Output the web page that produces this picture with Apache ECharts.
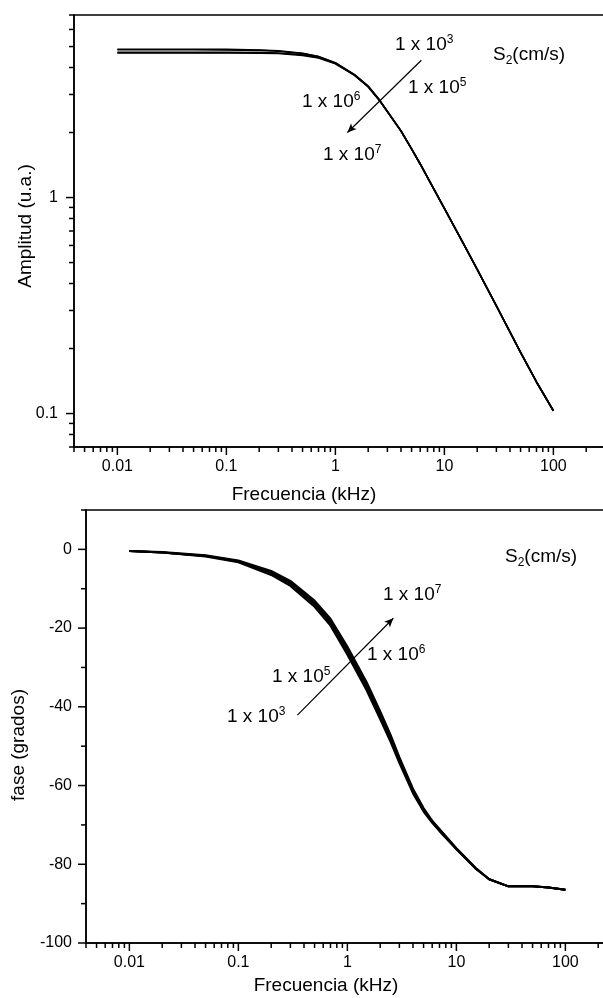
<!DOCTYPE html>
<html><head><meta charset="utf-8">
<script src="https://cdn.jsdelivr.net/npm/echarts@6/dist/echarts.min.js"></script>
<style>html,body{margin:0;padding:0;background:#fff}#c{width:603px;height:998px}</style>
</head><body><div id="c"></div>
<script>
// ---------------- data ----------------
const freq = [0.01,0.02,0.05,0.1,0.2,0.3,0.5,0.7,1,1.5,2,2.5,3,4,5,6,7,10,15,20,30,50,70,100];
// Amplitude (u.a.) for S2 = 1e3, 1e5, 1e6, 1e7 cm/s
const amp_1e3 = [4.86,4.86,4.86,4.85,4.82,4.78,4.65,4.50,4.21,3.71,3.28,2.86,2.51,2.04,1.68,1.43,1.24,0.89,0.61,0.465,0.315,0.192,0.140,0.103];
const amp_1e5 = [4.83,4.83,4.83,4.82,4.80,4.76,4.64,4.49,4.20,3.70,3.27,2.85,2.50,2.03,1.68,1.43,1.24,0.89,0.61,0.465,0.315,0.192,0.140,0.103];
const amp_1e6 = [4.70,4.70,4.70,4.70,4.69,4.67,4.58,4.45,4.18,3.69,3.26,2.85,2.50,2.03,1.68,1.43,1.24,0.89,0.61,0.465,0.315,0.192,0.140,0.103];
const amp_1e7 = [4.67,4.67,4.67,4.67,4.66,4.64,4.55,4.43,4.16,3.68,3.25,2.84,2.50,2.03,1.68,1.43,1.24,0.89,0.61,0.465,0.315,0.192,0.140,0.103];
// Phase (grados)
const phase_1e3 = [-0.4,-0.8,-1.8,-3.3,-6.5,-9.3,-14.6,-19.4,-26.8,-35.8,-43.2,-49.0,-54.3,-62.0,-66.6,-69.5,-71.6,-76.2,-81.1,-83.8,-85.6,-85.6,-85.9,-86.5];
const phase_1e5 = [-0.4,-0.8,-1.7,-3.1,-6.1,-8.8,-14.0,-18.8,-26.1,-35.1,-42.5,-48.4,-53.8,-61.6,-66.3,-69.3,-71.4,-76.1,-81.0,-83.8,-85.6,-85.6,-85.9,-86.5];
const phase_1e6 = [-0.4,-0.8,-1.6,-3.0,-5.8,-8.4,-13.5,-18.2,-25.4,-34.4,-41.8,-47.8,-53.3,-61.2,-66.0,-69.1,-71.2,-76.0,-81.0,-83.8,-85.6,-85.6,-85.9,-86.5];
const phase_1e7 = [-0.4,-0.7,-1.5,-2.8,-5.5,-8.0,-13.0,-17.6,-24.7,-33.7,-41.1,-47.2,-52.8,-60.8,-65.7,-68.9,-71.0,-75.9,-80.9,-83.8,-85.6,-85.6,-85.9,-86.5];

const xMajorTicks = [0.01,0.1,1,10,100];
const xMinorTicks = [0.004,0.005,0.006,0.007,0.008,0.009,0.02,0.03,0.04,0.05,0.06,0.07,0.08,0.09,
  0.2,0.3,0.4,0.5,0.6,0.7,0.8,0.9,2,3,4,5,6,7,8,9,20,30,40,50,60,70,80,90,200,300,400];
const ampMajorTicks = [0.1,1];
const ampMinorTicks = [0.07,0.08,0.09,0.2,0.3,0.4,0.5,0.6,0.7,0.8,0.9,2,3,4,5,6,7];
const phaseMajorTicks = [-100,-80,-60,-40,-20,0];
const phaseMinorTicks = [-90,-70,-50,-30,-10,10];

const X_MIN = 0.004, X_MAX = 400;
const AMP_MIN = 0.07, AMP_MAX = 7;
const PH_MIN = -100, PH_MAX = 10;

// ---------------- chart ----------------
const FONT = "'Liberation Sans', Arial, sans-serif";
const chart = echarts.init(document.getElementById('c'), null, {renderer: 'canvas'});

function pairs(ys) { return freq.map((f, i) => [f, ys[i]]); }
function lineSeries(ys, xi, w) {
  return { type: 'line', xAxisIndex: xi, yAxisIndex: xi, data: pairs(ys), showSymbol: false,
    symbol: 'none', smooth: false, silent: true,
    lineStyle: { color: '#000', width: w }, z: 3 };
}
function xTickSeries(gi, yBase) {
  const d = xMajorTicks.map(v => [v, yBase, 8]).concat(xMinorTicks.map(v => [v, yBase, 5]));
  return { type: 'custom', xAxisIndex: gi, yAxisIndex: gi, data: d, silent: true, clip: false,
    encode: { x: 0, y: 1 },
    renderItem: (params, api) => {
      const p = api.coord([api.value(0), api.value(1)]);
      return { type: 'line', shape: { x1: p[0], y1: p[1], x2: p[0], y2: p[1] + api.value(2) },
        style: { stroke: '#000', lineWidth: 1.5 } };
    } };
}
function yTickSeries(gi, major, minor) {
  const d = major.map(v => [X_MIN, v, 8]).concat(minor.map(v => [X_MIN, v, 5]));
  return { type: 'custom', xAxisIndex: gi, yAxisIndex: gi, data: d, silent: true, clip: false,
    encode: { x: 0, y: 1 },
    renderItem: (params, api) => {
      const p = api.coord([api.value(0), api.value(1)]);
      return { type: 'line', shape: { x1: p[0], y1: p[1], x2: p[0] - api.value(2), y2: p[1] },
        style: { stroke: '#000', lineWidth: 1.5 } };
    } };
}
function xAxisCfg(gi) {
  return { type: 'log', logBase: 10, gridIndex: gi, min: X_MIN, max: X_MAX,
    axisLine: { show: true, onZero: false, lineStyle: { color: '#000', width: 1.5 } },
    axisTick: { show: false }, minorTick: { show: false }, splitLine: { show: false },
    axisLabel: { color: '#000', fontSize: 16, fontFamily: FONT, margin: 12,
      formatter: v => (xMajorTicks.some(t => Math.abs(t - v) / t < 1e-6) ? String(v) : '') } };
}

const sup = { fontSize: 12, fontFamily: FONT, color: '#000', verticalAlign: 'top', lineHeight: 20 };
const sub = { fontSize: 12, fontFamily: FONT, color: '#000', verticalAlign: 'bottom', lineHeight: 24 };
function txt(x, y, text, align) {
  return { type: 'text', x: x, y: y, silent: true,
    style: { text: text, fill: '#000', font: '19px ' + FONT, textAlign: align || 'left', textVerticalAlign: 'middle',
      rich: { s: sup, b: sub, n: { fontSize: 19, fontFamily: FONT, color: '#000', lineHeight: 22 } } } };
}

chart.setOption({
  animation: false,
  backgroundColor: '#fff',
  grid: [
    { left: 74, top: 15, width: 545, height: 432, outerBoundsMode: 'none', containLabel: false, show: true, borderColor: '#000', borderWidth: 1.5, backgroundColor: 'transparent' },
    { left: 86, top: 510, width: 545, height: 433, outerBoundsMode: 'none', containLabel: false, show: true, borderColor: '#000', borderWidth: 1.5, backgroundColor: 'transparent' }
  ],
  xAxis: [xAxisCfg(0), xAxisCfg(1)],
  yAxis: [
    { type: 'log', logBase: 10, gridIndex: 0, min: AMP_MIN, max: AMP_MAX,
      axisLine: { show: true, onZero: false, lineStyle: { color: '#000', width: 1.5 } },
      axisTick: { show: false }, minorTick: { show: false }, splitLine: { show: false },
      axisLabel: { color: '#000', fontSize: 16, fontFamily: FONT, margin: 16,
        formatter: v => (ampMajorTicks.some(t => Math.abs(t - v) / t < 1e-6) ? String(v) : '') } },
    { type: 'value', gridIndex: 1, min: PH_MIN, max: PH_MAX, interval: 10,
      axisLine: { show: true, onZero: false, lineStyle: { color: '#000', width: 1.5 } },
      axisTick: { show: false }, minorTick: { show: false }, splitLine: { show: false },
      axisLabel: { color: '#000', fontSize: 16, fontFamily: FONT, margin: 14,
        formatter: v => (phaseMajorTicks.indexOf(v) >= 0 ? String(v) : '') } }
  ],
  series: [
    lineSeries(amp_1e3, 0, 1.6), lineSeries(amp_1e5, 0, 1.6), lineSeries(amp_1e6, 0, 1.6), lineSeries(amp_1e7, 0, 1.6),
    lineSeries(phase_1e3, 1, 2), lineSeries(phase_1e5, 1, 2), lineSeries(phase_1e6, 1, 2), lineSeries(phase_1e7, 1, 2),
    xTickSeries(0, AMP_MIN), xTickSeries(1, PH_MIN),
    yTickSeries(0, ampMajorTicks, ampMinorTicks), yTickSeries(1, phaseMajorTicks, phaseMinorTicks),
    // arrows
    { type: 'line', xAxisIndex: 0, yAxisIndex: 0, data: [], silent: true,
      markLine: { silent: true, symbol: ['none', 'arrow'], symbolSize: [6, 9], label: { show: false },
        lineStyle: { color: '#000', width: 1.2, type: 'solid' },
        data: [[{ coord: [6.15, 4.32] }, { coord: [1.29, 2.0] }]] } },
    { type: 'line', xAxisIndex: 1, yAxisIndex: 1, data: [], silent: true,
      markLine: { silent: true, symbol: ['none', 'arrow'], symbolSize: [6, 9], label: { show: false },
        lineStyle: { color: '#000', width: 1.2, type: 'solid' },
        data: [[{ coord: [0.348, -42.1] }, { coord: [2.64, -17.5] }]] } }
  ],
  graphic: [
    // axis titles
    { type: 'text', x: 304, y: 495, silent: true, style: { text: 'Frecuencia (kHz)', fill: '#000', font: '19px ' + FONT, textAlign: 'center', textVerticalAlign: 'middle' } },
    { type: 'text', x: 326, y: 986, silent: true, style: { text: 'Frecuencia (kHz)', fill: '#000', font: '19px ' + FONT, textAlign: 'center', textVerticalAlign: 'middle' } },
    { type: 'text', x: 26, y: 226, rotation: Math.PI / 2, silent: true, style: { text: 'Amplitud (u.a.)', fill: '#000', font: '19px ' + FONT, textAlign: 'center', textVerticalAlign: 'middle' } },
    { type: 'text', x: 19, y: 745, rotation: Math.PI / 2, silent: true, style: { text: 'fase (grados)', fill: '#000', font: '19px ' + FONT, textAlign: 'center', textVerticalAlign: 'middle' } },
    // top annotations
    txt(395, 45, '{n|1 x 10}{s|3}'),
    txt(408, 88, '{n|1 x 10}{s|5}'),
    txt(302, 102, '{n|1 x 10}{s|6}'),
    txt(323, 155, '{n|1 x 10}{s|7}'),
    txt(493, 55, '{n|S}{b|2}{n|(cm/s)}'),
    // bottom annotations
    txt(383, 595, '{n|1 x 10}{s|7}'),
    txt(367, 655, '{n|1 x 10}{s|6}'),
    txt(272, 677, '{n|1 x 10}{s|5}'),
    txt(227, 717, '{n|1 x 10}{s|3}'),
    txt(505, 557, '{n|S}{b|2}{n|(cm/s)}')
  ]
});
</script></body></html>
